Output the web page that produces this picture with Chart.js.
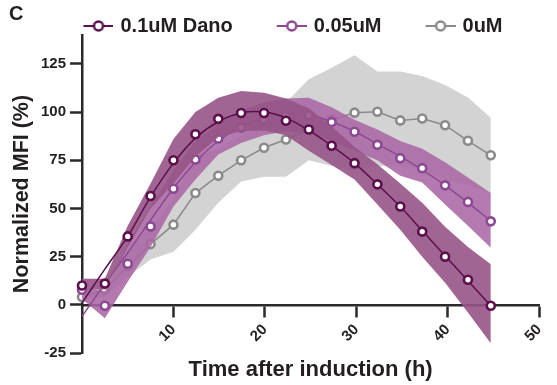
<!DOCTYPE html>
<html>
<head>
<meta charset="utf-8">
<script src="https://cdn.jsdelivr.net/npm/chart.js@4"></script>
<style>
  html, body { margin: 0; padding: 0; background: #fff; }
  #wrap { width: 557px; height: 385px; }
</style>
</head>
<body>
<div id="wrap"><canvas id="myChart" width="557" height="385"></canvas></div>
<script>
// time after induction (h)
hours = [0, 2.5, 5, 7.5, 10, 12.4, 14.9, 17.4, 19.9, 22.3, 24.8, 27.3, 29.8, 32.3, 34.8, 37.2, 39.7, 42.2, 44.7];

// 0.1uM Dano
dano_mean = [10, 11, 35.5, 56.5, 75, 88.5, 96.5, 99.5, 99.5, 95.5, 91, 82.5, 73.5, 62.5, 51, 38, 25, 13, -0.5];
dano_fit = [1, 18.5, 35.5, 56, 73.5, 86.5, 95, 99.5, 100, 97, 90.5, 82.5, 73.5, 62.5, 51, 38.5, 25.5, 12.5, -0.5];
dano_upper = [13.5, 13.5, 41, 63, 86, 100, 107.5, 111, 110, 107, 102, 92.5, 82, 73, 63, 53, 40.5, 30, 21];
dano_lower = [8, 8, 30, 50, 63, 77, 87, 90, 90.5, 88, 80, 72.5, 65, 52, 39, 25, 11.5, -4, -20];

// 0.05uM
half_mean = [7.8, -0.5, 21.3, 40.7, 60.2, 75.4, 86.3, 92, 96, 98, 98.3, 94.8, 89.8, 83, 76.1, 70.9, 62, 53.4, 43.3];
half_fit = [-6, 11, 27, 44, 60.5, 74, 85, 92.5, 97, 99, 98.5, 95, 90, 83.5, 77, 70, 62, 53, 43.5];
half_upper = [9, 7, 32, 51, 70, 85, 94, 101, 105, 107, 107.5, 102.5, 96, 91, 85, 81, 74, 66, 58];
half_lower = [3, -7, 12, 30, 51, 65, 78, 84, 88, 90, 89, 85, 80, 75, 67, 63.5, 52, 41, 29.6];

// 0uM
zero_mean = [4, 8, 20, 31.5, 41.6, 58, 67, 75, 81.5, 85.8, 91, 96, 99.7, 100.2, 95.7, 96.7, 93.2, 85.1, 77.6];
zero_upper = [7, 11, 28, 40, 55, 77, 81, 88, 96, 105, 117, 123, 129.5, 121, 121, 118.7, 114, 107.6, 97];
zero_lower = [2, 4, 14.5, 23.5, 27.5, 39, 53, 64, 66.5, 66.5, 75, 72, 70, 72, 72, 70, 65, 62, 58];

legend_names = ['0.1uM Dano', '0.05uM', '0uM'];
x_ticks = [10, 20, 30, 40, 50];
y_ticks = [-25, 0, 25, 50, 75, 100, 125];

var axis_color = '#2a2a2a';
var text_color = '#231f20';
var font_name = '"Liberation Sans", Arial, sans-serif';

function pts(arr) {
    return hours.map(function (h, i) { return {x: h, y: arr[i]}; });
}

// legend marker: short line with open circle
function marker(color) {
    var c = document.createElement('canvas');
    c.width = 63;
    c.height = 14;
    var g = c.getContext('2d');
    g.strokeStyle = color;
    g.lineWidth = 2;
    g.beginPath();
    g.moveTo(33, 7);
    g.lineTo(63, 7);
    g.stroke();
    g.beginPath();
    g.arc(48, 7, 4.5, 0, Math.PI * 2);
    g.fillStyle = '#fff';
    g.fill();
    g.lineWidth = 2.5;
    g.stroke();
    return c;
}

function pointSet(label, arr, color, order) {
    return {
        label: label, data: pts(arr), showLine: false, order: order, clip: false,
        pointRadius: 4, pointBorderWidth: 2.6, pointBorderColor: color,
        pointBackgroundColor: '#fff', borderColor: color
    };
}

function lineSet(arr, color, order, tension) {
    return {
        data: pts(arr), order: order, borderColor: color, borderWidth: 1.5,
        pointRadius: 0, tension: tension, fill: false, clip: false
    };
}

function bandSets(up, low, color, order) {
    return [{
        data: pts(up), order: order, borderWidth: 0, pointRadius: 0,
        backgroundColor: color, fill: '+1'
    }, {
        data: pts(low), order: order, borderWidth: 0, pointRadius: 0, fill: false
    }];
}

var colors = ['#5b0f4b', '#8d4893', '#8a8a8a'];

var datasets = [].concat(
    [pointSet(legend_names[0], dano_mean, colors[0], 0),
     lineSet(dano_fit, colors[0], 1, 0.3)],
    bandSets(dano_upper, dano_lower, 'rgba(150, 84, 134, 0.9)', 2),
    [pointSet(legend_names[1], half_mean, colors[1], 3),
     lineSet(half_fit, colors[1], 4, 0.3)],
    bandSets(half_upper, half_lower, 'rgba(170, 104, 164, 0.88)', 5),
    [pointSet(legend_names[2], zero_mean, colors[2], 6),
     lineSet(zero_mean, colors[2], 7, 0)],
    bandSets(zero_upper, zero_lower, '#d3d3d3', 8)
);

var panelLabel = {
    id: 'panelLabel',
    afterDraw: function (chart) {
        var ctx = chart.ctx;
        ctx.save();
        ctx.font = 'bold 20px ' + font_name;
        ctx.fillStyle = text_color;
        ctx.textBaseline = 'alphabetic';
        ctx.fillText('C', 9, 20);
        ctx.restore();
    }
};

var ctx = document.getElementById('myChart').getContext('2d');
var myLineChart = new Chart(ctx, {
    type: 'line',
    data: {datasets: datasets},
    plugins: [panelLabel],
    options: {
        responsive: false,
        animation: false,
        events: [],
        layout: {padding: {top: 2, right: 1, left: 0, bottom: 32}},
        plugins: {
            tooltip: {enabled: false},
            legend: {
                position: 'top',
                align: 'center',
                maxHeight: 33,
                labels: {
                    usePointStyle: true,
                    pointStyleWidth: 57,
                    padding: 14,
                    color: text_color,
                    font: {family: font_name, size: 20, weight: 'bold'},
                    generateLabels: function () {
                        return legend_names.map(function (name, i) {
                            return {
                                text: name, pointStyle: marker(colors[i]), datasetIndex: i * 4,
                                hidden: false, lineWidth: 0, fontColor: text_color,
                                strokeStyle: 'transparent', fillStyle: 'transparent'
                            };
                        });
                    }
                }
            }
        },
        scales: {
            x: {
                type: 'linear',
                min: 0,
                max: 50,
                position: {y: 0},
                afterFit: function (s) { s.height = 32; },
                afterBuildTicks: function (s) { s.ticks = x_ticks.map(function (v) { return {value: v}; }); },
                border: {color: axis_color, width: 2.5},
                grid: {drawOnChartArea: false, tickLength: 11, tickWidth: 2.5, tickColor: axis_color},
                ticks: {
                    minRotation: 45, maxRotation: 45, padding: 5,
                    color: text_color, font: {family: font_name, size: 15, weight: 'bold'}
                },
                title: {
                    display: true, text: 'Time after induction (h)', color: text_color,
                    font: {family: font_name, size: 22, weight: 'bold'},
                    padding: {top: 0, bottom: -46}
                }
            },
            y: {
                min: -25,
                max: 140,
                afterFit: function (s) { s.width = 82; },
                afterBuildTicks: function (s) { s.ticks = y_ticks.map(function (v) { return {value: v}; }); },
                border: {color: axis_color, width: 2.5},
                grid: {drawOnChartArea: false, tickLength: 12, tickWidth: 2.5, tickColor: axis_color},
                ticks: {
                    padding: 4, color: text_color,
                    font: {family: font_name, size: 15, weight: 'bold'}
                },
                title: {
                    display: true, text: 'Normalized MFI (%)', color: text_color,
                    font: {family: font_name, size: 21.5, weight: 'bold'},
                    padding: {top: 9, bottom: 0}
                }
            }
        }
    }
});
</script>
</body>
</html>
